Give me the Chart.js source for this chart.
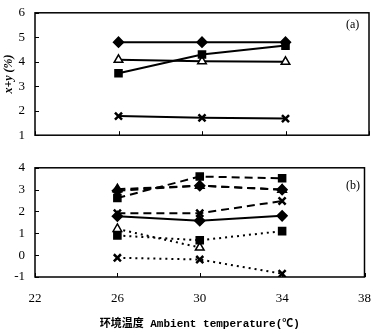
<!DOCTYPE html>
<html>
<head>
<meta charset="utf-8">
<script src="https://cdn.jsdelivr.net/npm/chart.js@4"></script>
<style>
  html, body { margin: 0; padding: 0; background: #fff; }
  #wrap { position: relative; width: 385px; height: 335px; overflow: hidden; }
  .pane { position: absolute; left: 0; }
</style>
</head>
<body>
<div id="wrap">
  <div class="pane" style="top:-5px"><canvas id="chartA" width="385" height="158"></canvas></div>
  <div class="pane" style="top:150px"><canvas id="chartB" width="385" height="185"></canvas></div>
</div>
<script>
// 环境温度
const temps = [26, 30, 34];
const xTicks = [22, 26, 30, 34, 38];

// (a) x+y (%)
const aDiamond = [4.8, 4.8, 4.8];
const aSquare = [3.53, 4.3, 4.66];
const aTriangle = [4.08, 4.02, 4.0];
const aCross = [1.78, 1.71, 1.68];

// (b)
const bSquareDash = [2.62, 3.6, 3.52];
const bTriangleDash = [3.02, 3.18, 3.0];
const bDiamondDash = [2.95, 3.18, 3.0];
const bCrossDash = [1.92, 1.92, 2.48];
const bDiamondSolid = [1.78, 1.58, 1.8];
const bTriangleDot = [1.2, 0.35, null];
const bSquareDot = [0.9, 0.68, 1.1];
const bCrossDot = [-0.12, -0.2, -0.85];

const pts = arr => temps.map((t, i) => ({x: t, y: arr[i]}));
const SERIF = "'Liberation Serif', 'DejaVu Serif', serif";

function series(arr, shape, dash) {
  return {
    data: pts(arr),
    borderColor: '#000',
    borderWidth: 2,
    borderDash: dash,
    pointStyle: shape,
    pointRadius: 5,
    pointBorderWidth: shape === 'crossRot' ? 2.5 : 1.5,
    pointBackgroundColor: shape === 'triangle' ? '#fff' : '#000',
    pointBorderColor: '#000',
    tension: 0
  };
}

// frame + inward tick marks + panel tag
const framePlugin = {
  id: 'frame',
  afterDatasetsDraw(chart, args, o) {
    const {ctx, chartArea: a, scales} = chart;
    ctx.save();
    ctx.strokeStyle = '#000';
    ctx.lineWidth = 1.5;
    ctx.strokeRect(a.left, a.top, a.right - a.left, a.bottom - a.top);
    ctx.lineWidth = 1;
    ctx.beginPath();
    scales.y.ticks.forEach(t => {
      const py = Math.round(scales.y.getPixelForValue(t.value)) + 0.5;
      ctx.moveTo(a.left, py); ctx.lineTo(a.left + 4, py);
    });
    scales.x.ticks.forEach(t => {
      const px = Math.round(scales.x.getPixelForValue(t.value)) + 0.5;
      ctx.moveTo(px, a.bottom); ctx.lineTo(px, a.bottom - 4);
    });
    ctx.stroke();
    ctx.fillStyle = '#000';
    ctx.font = "12px " + SERIF;
    ctx.textAlign = 'left';
    ctx.textBaseline = 'middle';
    ctx.fillText(o.tag, 346, a.top + o.tagDy);
    ctx.restore();
  }
};

function xScale(showLabels, h) {
  return {
    type: 'linear', min: 22, max: 38,
    afterBuildTicks: s => { s.ticks = xTicks.map(v => ({value: v})); },
    grid: {display: false, drawTicks: false},
    border: {display: false},
    ticks: {display: showLabels, padding: 14, color: '#000', font: {family: SERIF, size: 13}},
    title: {
      display: showLabels,
      text: '环境温度 Ambient temperature(℃)',
      color: '#000',
      padding: {top: 4},
      font: {family: "'Liberation Mono', 'Noto Sans CJK SC', monospace", size: 11, weight: 'bold'}
    },
    afterFit: s => { s.height = h; }
  };
}

function yScale(min, max, title) {
  return {
    min: min, max: max,
    ticks: {stepSize: 1, padding: 10, color: '#000', font: {family: SERIF, size: 13}},
    grid: {display: false, drawTicks: false},
    border: {display: false},
    title: {
      display: !!title, text: title, color: '#000', padding: {top: 2, bottom: 0},
      font: {family: SERIF, size: 12, weight: 'bold', style: 'italic'}
    },
    afterFit: s => { s.width = 35; }
  };
}

const common = {
  responsive: false,
  animation: false,
  events: [],
  plugins: {legend: {display: false}, tooltip: {enabled: false}}
};

new Chart(document.getElementById('chartA'), {
  type: 'line',
  data: {
    datasets: [
      series(aDiamond, 'rectRot', []),
      series(aSquare, 'rect', []),
      series(aTriangle, 'triangle', []),
      series(aCross, 'crossRot', [])
    ]
  },
  options: Object.assign({}, common, {
    layout: {padding: {top: 7, right: 16, left: 0, bottom: 0}},
    plugins: Object.assign({}, common.plugins, {frame: {tag: '(a)', tagDy: 12}}),
    scales: {x: xScale(false, 2), y: yScale(1, 6, 'x+y (%)')}
  }),
  plugins: [framePlugin]
});

new Chart(document.getElementById('chartB'), {
  type: 'line',
  data: {
    datasets: [
      series(bSquareDash, 'rect', [8, 5]),
      series(bDiamondDash, 'rectRot', [8, 5]),
      series(bTriangleDash, 'triangle', [8, 5]),
      series(bCrossDash, 'crossRot', [8, 5]),
      series(bDiamondSolid, 'rectRot', []),
      series(bSquareDot, 'rect', [2, 4]),
      series(bTriangleDot, 'triangle', [2, 4]),
      series(bCrossDot, 'crossRot', [2, 4])
    ]
  },
  options: Object.assign({}, common, {
    layout: {padding: {top: 7, right: 16, left: 0, bottom: 0}},
    plugins: Object.assign({}, common.plugins, {frame: {tag: '(b)', tagDy: 18}}),
    scales: {x: xScale(true, 58), y: yScale(-1, 4, '')}
  }),
  plugins: [framePlugin]
});
</script>
</body>
</html>
